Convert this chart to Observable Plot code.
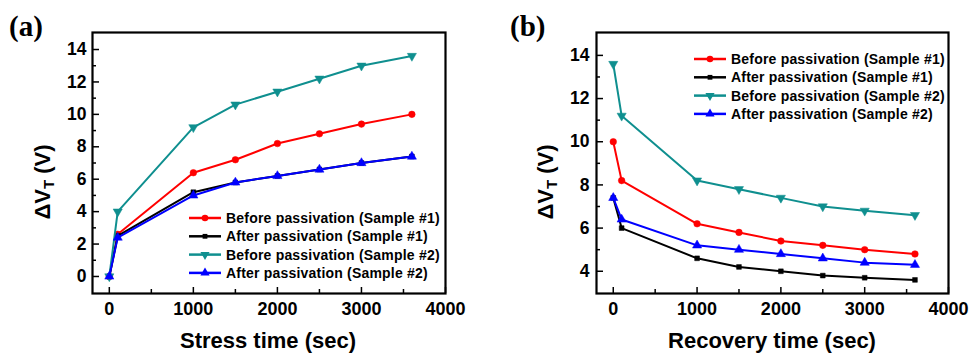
<!DOCTYPE html>
<html><head><meta charset="utf-8">
<script src="https://cdn.jsdelivr.net/npm/d3@7"></script>
<script src="https://cdn.jsdelivr.net/npm/@observablehq/plot@0.6"></script>
<style>
body{margin:0;background:#fff;}
#wrap{position:relative;width:977px;height:360px;font-family:"Liberation Sans",Arial,sans-serif;overflow:hidden;background:#fff}
.panel{position:absolute;top:0;}
.tag{position:absolute;font-family:"Liberation Serif","Times New Roman",serif;font-weight:bold;font-size:29px;line-height:1}
.ylab{position:absolute;font-weight:bold;font-size:22px;white-space:nowrap;transform:translate(-50%,-50%) rotate(-90deg);line-height:1}
.ylab sub{font-size:15px;vertical-align:-4px}
.xlab{position:absolute;font-weight:bold;font-size:22px;white-space:nowrap;transform:translateX(-50%);line-height:1}
</style></head><body><div id="wrap"></div>
<script>
// ---- data ----
const times = [0, 100, 1000, 1500, 2000, 2500, 3000, 3600];
const seriesNames = ["Before passivation (Sample #1)", "After passivation (Sample #1)", "Before passivation (Sample #2)", "After passivation (Sample #2)"];
const stressBefore1 = [0, 2.6, 6.4, 7.2, 8.2, 8.8, 9.4, 10.0];
const stressAfter1  = [0, 2.5, 5.2, 5.8, 6.2, 6.6, 7.0, 7.4];
const stressBefore2 = [0, 4.0, 9.2, 10.6, 11.4, 12.2, 13.0, 13.6];
const stressAfter2  = [0, 2.4, 5.0, 5.8, 6.2, 6.6, 7.0, 7.4];
const recBefore1 = [10.0, 8.2, 6.2, 5.8, 5.4, 5.2, 5.0, 4.8];
const recAfter1  = [7.4, 6.0, 4.6, 4.2, 4.0, 3.8, 3.7, 3.6];
const recBefore2 = [13.6, 11.2, 8.2, 7.8, 7.4, 7.0, 6.8, 6.6];
const recAfter2  = [7.4, 6.4, 5.2, 5.0, 4.8, 4.6, 4.4, 4.3];
const xTicks = [0, 1000, 2000, 3000, 4000];
const xMinor = [500, 1500, 2500, 3500];
const yTicksA = [0, 2, 4, 6, 8, 10, 12, 14];
const yTicksB = [4, 6, 8, 10, 12, 14];

// ---- styling ----
const colors = ["#ff0000", "#000000", "#0f8f8f", "#0000ff"];
const triangleDown = {
  draw(context, size) {
    const y = -Math.sqrt(size / (3 * Math.sqrt(3)));
    context.moveTo(0, -2 * y);
    context.lineTo(-Math.sqrt(3) * y, y);
    context.lineTo(Math.sqrt(3) * y, y);
    context.closePath();
  }
};
const symbols = [d3.symbolCircle, d3.symbolSquare, triangleDown, d3.symbolTriangle];
const symbolR = [3.3, 2.7, 3.4, 3.4];

function toRows(ys) { return times.map((t, i) => ({t, v: ys[i]})); }

function makePanel(opts) {
  const marks = [];
  opts.series.forEach((ys, i) => {
    const rows = toRows(ys);
    marks.push(Plot.line(rows, {x: "t", y: "v", stroke: colors[i], strokeWidth: 2}));
    marks.push(Plot.dot(rows, {x: "t", y: "v", fill: colors[i], stroke: colors[i], strokeWidth: 0.5, symbol: symbols[i], r: symbolR[i]}));
  });
  const font = {fontWeight: "bold", fontSize: 18, fontFamily: "Liberation Sans, Arial, sans-serif"};
  marks.push(
    Plot.axisX({ticks: xTicks, tickSize: -6, text: null, label: null, strokeWidth: 1.5}),
    Plot.axisX({ticks: xMinor, tickSize: -4, text: null, label: null, strokeWidth: 1.5}),
    Plot.axisX({ticks: xTicks, tickSize: 0, tickPadding: 9, label: null, tickFormat: d => String(d), ...font}),
    Plot.axisY({ticks: opts.yTicks, tickSize: -7, text: null, label: null, strokeWidth: 1.5}),
    Plot.axisY({ticks: opts.yMinor, tickSize: -4, text: null, label: null, strokeWidth: 1.5}),
    Plot.axisY({ticks: opts.yTicks, tickSize: 0, tickPadding: opts.yPad, label: null, tickFormat: d => String(d), ...font, fontSize: 17.5}),
    Plot.frame({stroke: "#000", strokeWidth: 2.2})
  );
  const svg = Plot.plot({
    width: opts.width, height: 360,
    marginLeft: opts.ml, marginRight: opts.mr, marginTop: 32, marginBottom: 67,
    x: {domain: [-200, 4000], label: null},
    y: {domain: opts.yDomain, label: null},
    style: {background: "transparent", overflow: "visible"},
    marks
  });
  // legend
  const g = d3.select(svg).append("g").attr("text-anchor", "start");
  seriesNames.forEach((name, i) => {
    const y = opts.legY + i * 18.3;
    g.append("line").attr("x1", opts.legX).attr("x2", opts.legX + 32).attr("y1", y).attr("y2", y)
      .attr("stroke", colors[i]).attr("stroke-width", 2.5);
    const sz = Math.PI * symbolR[i] * symbolR[i];
    g.append("path").attr("d", d3.symbol(symbols[i], sz)()).attr("transform", `translate(${opts.legX + 16},${y})`)
      .attr("fill", colors[i]);
    g.append("text").attr("x", opts.legX + 37).attr("y", y).attr("dy", "0.36em")
      .attr("text-anchor", "start")
      .attr("font-family", "Liberation Sans, Arial, sans-serif").attr("font-weight", "bold").attr("font-size", 14)
      .attr("letter-spacing", "0.2px")
      .text(name);
  });
  svg.classList.add("panel");
  svg.style.left = opts.left + "px";
  return svg;
}

const wrap = document.getElementById("wrap");
wrap.appendChild(makePanel({
  left: 0, width: 488, ml: 92, mr: 43,
  series: [stressBefore1, stressAfter1, stressBefore2, stressAfter2],
  yDomain: [-1.05, 15.05], yTicks: yTicksA, yMinor: [1, 3, 5, 7, 9, 11, 13], yPad: 6,
  legX: 189, legY: 218
}));
wrap.appendChild(makePanel({
  left: 488, width: 489, ml: 108, mr: 29,
  series: [recBefore1, recAfter1, recBefore2, recAfter2],
  yDomain: [2.97, 15.06], yTicks: yTicksB, yMinor: [5, 7, 9, 11, 13], yPad: 7,
  legX: 206, legY: 59
}));

function addHTML(cls, html, left, top) {
  const d = document.createElement("div");
  d.className = cls; d.innerHTML = html;
  d.style.left = left + "px"; d.style.top = top + "px";
  wrap.appendChild(d);
}
addHTML("tag", "(a)", 9, 12);
addHTML("tag", "(b)", 510, 12);
addHTML("ylab", "ΔV<sub>T</sub> (V)", 44, 182);
addHTML("ylab", "ΔV<sub>T</sub> (V)", 547, 182);
addHTML("xlab", "Stress time (sec)", 268, 330);
addHTML("xlab", "Recovery time (sec)", 772, 330);
</script>
</body></html>
